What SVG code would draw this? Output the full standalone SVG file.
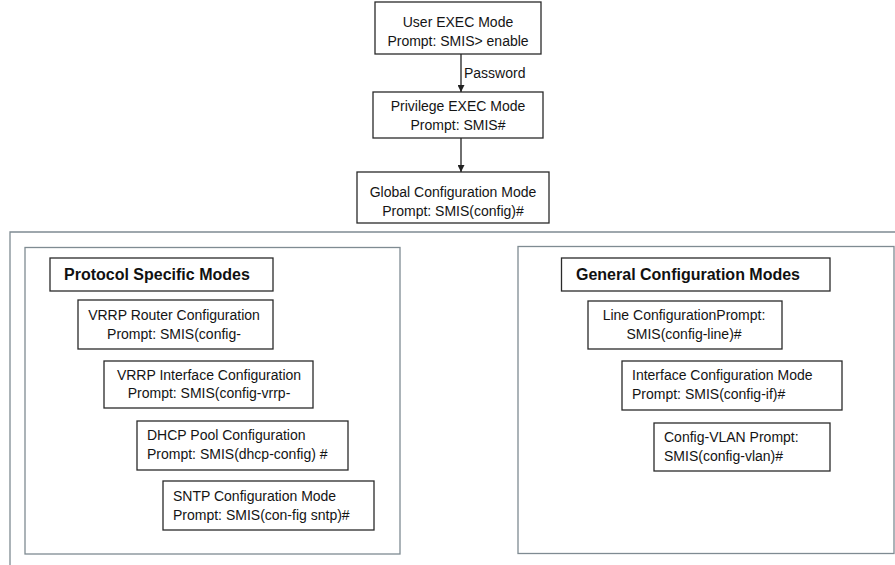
<svg xmlns="http://www.w3.org/2000/svg" width="895" height="565" viewBox="0 0 895 565">
<defs>
<marker id="arr" viewBox="0 0 10 10" refX="10" refY="5" markerWidth="7" markerHeight="7" orient="auto" markerUnits="userSpaceOnUse">
<path d="M0,0 L10,5 L0,10 z" fill="#222"/>
</marker>
</defs>
<style>
.frame{fill:none;stroke:#7f8b92;stroke-width:1.3}
.node{fill:#fff;stroke:#2a2a2a;stroke-width:1.3}
.t{font-family:"Liberation Sans",Arial,sans-serif;font-size:14px;fill:#141414}
.c{text-anchor:middle}
.h{font-family:"Liberation Sans",Arial,sans-serif;font-size:16px;font-weight:bold;fill:#111}
.edge{stroke:#222;stroke-width:1.3;fill:none}
</style>
<rect width="895" height="565" fill="#fff"/>
<g id="outer-frame">
<path class="frame" d="M10,565 V232 H895"/>
</g>
<g id="protocol-frame"><rect class="frame" x="25" y="247.5" width="375" height="306.5"/></g>
<g id="general-frame"><rect class="frame" x="518" y="246.5" width="376" height="307"/></g>

<g id="user-exec">
<rect class="node" x="375" y="2" width="166" height="52"/>
<text class="t c" x="458" y="27">User EXEC Mode</text>
<text class="t c" x="458" y="46">Prompt: SMIS&gt; enable</text>
</g>
<g id="privilege-exec">
<rect class="node" x="373" y="92" width="170" height="46"/>
<text class="t c" x="458" y="111">Privilege EXEC Mode</text>
<text class="t c" x="458" y="130">Prompt: SMIS#</text>
</g>
<g id="global-config">
<rect class="node" x="357" y="172" width="192" height="51"/>
<text class="t c" x="453" y="197">Global Configuration Mode</text>
<text class="t c" x="453" y="216">Prompt: SMIS(config)#</text>
</g>

<g id="protocol-header">
<rect class="node" x="50" y="258" width="223" height="33"/>
<text class="h" x="64" y="280">Protocol Specific Modes</text>
</g>
<g id="vrrp-router">
<rect class="node" x="78" y="300" width="195" height="49"/>
<text class="t c" x="174" y="320">VRRP Router Configuration</text>
<text class="t c" x="174" y="338.5">Prompt: SMIS(config-</text>
</g>
<g id="vrrp-interface">
<rect class="node" x="104" y="361" width="209" height="47"/>
<text class="t c" x="209" y="379.5">VRRP Interface Configuration</text>
<text class="t c" x="209" y="398">Prompt: SMIS(config-vrrp-</text>
</g>
<g id="dhcp-pool">
<rect class="node" x="137" y="421" width="211" height="49"/>
<text class="t" x="147" y="440">DHCP Pool Configuration</text>
<text class="t" x="147" y="458.5">Prompt: SMIS(dhcp-config) #</text>
</g>
<g id="sntp">
<rect class="node" x="163" y="481" width="211" height="49"/>
<text class="t" x="173" y="501">SNTP Configuration Mode</text>
<text class="t" x="173" y="519.5">Prompt: SMIS(con-fig sntp)#</text>
</g>

<g id="general-header">
<rect class="node" x="561.5" y="258" width="268.5" height="33"/>
<text class="h" x="576" y="280">General Configuration Modes</text>
</g>
<g id="line-config">
<rect class="node" x="588" y="301" width="194" height="48"/>
<text class="t c" x="684" y="320">Line ConfigurationPrompt:</text>
<text class="t c" x="684" y="338.5">SMIS(config-line)#</text>
</g>
<g id="interface-config">
<rect class="node" x="622" y="361" width="220" height="49"/>
<text class="t" x="632" y="380">Interface Configuration Mode</text>
<text class="t" x="632" y="398.5">Prompt: SMIS(config-if)#</text>
</g>
<g id="vlan-config">
<rect class="node" x="654" y="423" width="176" height="48"/>
<text class="t" x="664" y="442">Config-VLAN Prompt:</text>
<text class="t" x="664" y="460.5">SMIS(config-vlan)#</text>
</g>

<g id="connectors">
<line class="edge" x1="461" y1="54" x2="461" y2="92" marker-end="url(#arr)"/>
<text class="t" x="464" y="78">Password</text>
<line class="edge" x1="461" y1="138" x2="461" y2="172" marker-end="url(#arr)"/>
</g>
</svg>
